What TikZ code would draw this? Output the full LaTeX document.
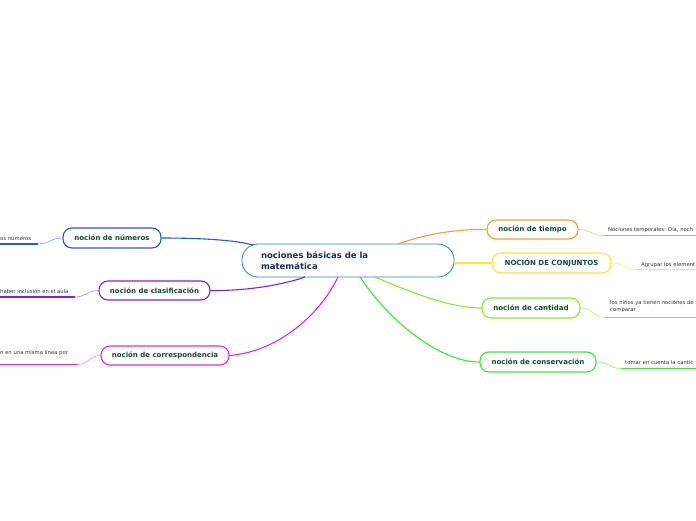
\documentclass[tikz,border=0pt]{standalone}
\usepackage{fontspec}
\setmainfont{DejaVu Sans}
\definecolor{cMain}{HTML}{2B86C7}
\definecolor{cNum}{HTML}{2255EE}
\definecolor{cCla}{HTML}{7722EE}
\definecolor{cCor}{HTML}{EE22EE}
\definecolor{cTie}{HTML}{F5A030}
\definecolor{cCon}{HTML}{EEEE30}
\definecolor{cCan}{HTML}{88EE22}
\definecolor{cCns}{HTML}{33EE33}
\definecolor{tGreen}{HTML}{124A3A}
\definecolor{tNavy}{HTML}{1B2A5A}
\definecolor{tLeaf}{HTML}{333333}
\begin{document}
\begin{tikzpicture}[x=1pt,y=-1pt,
  topic/.style={draw, rounded corners=9pt, line width=1.1pt, fill=white,
    font=\bfseries\fontsize{7}{8}\selectfont, text=tGreen, minimum height=20pt, inner sep=0pt},
  leaftext/.style={font=\fontsize{5.3}{7}\selectfont, text=tLeaf, inner sep=0pt, align=left},
  conn/.style={line width=1.1pt},
  thin/.style={line width=0.7pt},
  thick/.style={line width=1.7pt}]
\useasboundingbox (0,0) rectangle (696,520);
% central node
\node[draw=cMain, line width=0.8pt, rounded corners=16pt, fill=white, minimum width=212pt, minimum height=33pt,
  text width=174pt, inner xsep=19pt, align=left, text=tNavy, font=\bfseries\fontsize{8.5}{11}\selectfont]
  (c) at (348,260.5) {nociones básicas de la\\matemática};
% topic nodes
\node[topic, draw=cNum, minimum width=98pt] (num) at (112,238) {noción de números};
\node[topic, draw=cCla, minimum width=111pt, minimum height=19pt] (cla) at (154.5,290.5) {noción de clasificación};
\node[topic, draw=cCor, minimum width=128pt, minimum height=19pt] (cor) at (165,355.5) {noción de correspondencia};
\node[topic, draw=cTie, minimum width=91pt, minimum height=19pt] (tie) at (532.5,229.5) {noción de tiempo};
\node[topic, draw=cCon, minimum width=119pt] (con) at (551.5,263) {NOCIÓN DE CONJUNTOS};
\node[topic, draw=cCan, minimum width=98pt] (can) at (531,308) {noción de cantidad};
\node[topic, draw=cCns, minimum width=116pt] (cns) at (538,362) {noción de conservación};
% attach points on the central node border
\coordinate (cNum) at (253,245);
\coordinate (cCla) at (305,277);
\coordinate (cCor) at (338,277);
\coordinate (cTie) at (398,244);
\coordinate (cCon) at (454,263);
\coordinate (cCan) at (375,277);
\coordinate (cCns) at (360,277);
% main connectors
\draw[conn, cNum] (num.east) .. controls (200,238) and (235,240) .. (cNum);
\draw[conn, cCla] (cla.east) .. controls (250,291) and (285,284) .. (cCla);
\draw[conn, cCor] (cor.east) .. controls (275,352) and (318,318) .. (cCor);
\draw[conn, cTie] (tie.west) .. controls (450,229) and (420,236) .. (cTie);
\draw[conn, cCon] (cCon) -- (con.west);
\draw[conn, cCan] (cCan) .. controls (410,292) and (450,308) .. (can.west);
\draw[conn, cCns] (cCns) .. controls (390,322) and (440,362) .. (cns.west);
% leaf end coordinates
\coordinate (lNumA) at (38,244);  \coordinate (lNumB) at (0,244);
\coordinate (lClaA) at (75,297);  \coordinate (lClaB) at (0,297);
\coordinate (lCorA) at (77,364.5);  \coordinate (lCorB) at (0,364.5);
\coordinate (lTieA) at (604,235.5); \coordinate (lTieB) at (696,235.5);
\coordinate (lConA) at (637,269.5); \coordinate (lConB) at (696,269.5);
\coordinate (lCanA) at (606,317.5); \coordinate (lCanB) at (696,317.5);
\coordinate (lCnsA) at (622,368.5); \coordinate (lCnsB) at (696,368.5);
% leaf connectors
\draw[thin, cNum!50] (num.west) .. controls (50,238) and (50,244) .. (lNumA);
\draw[thick, cNum] (lNumA) -- (lNumB);
\draw[thin, cCla!50] (cla.west) .. controls (86,291) and (86,297) .. (lClaA);
\draw[thick, cCla] (lClaA) -- (lClaB);
\draw[thin, cCor!50] (cor.west) .. controls (89,355.5) and (89,364.5) .. (lCorA);
\draw[thick, cCor] (lCorA) -- (lCorB);
\draw[thin, cTie!60] (tie.east) .. controls (592,229.5) and (590,235.5) .. (lTieA);
\draw[thick, cTie] (lTieA) -- (lTieB);
\draw[thin, cCon!60] (con.east) .. controls (625,263) and (623,269.5) .. (lConA);
\draw[thick, cCon] (lConA) -- (lConB);
\draw[thin, cCan!60] (can.east) .. controls (594,308) and (592,317.5) .. (lCanA);
\draw[thick, cCan] (lCanA) -- (lCanB);
\draw[thin, cCns!60] (cns.east) .. controls (610,362) and (608,368.5) .. (lCnsA);
\draw[thick, cCns] (lCnsA) -- (lCnsB);
% leaf texts
\node[leaftext, anchor=base west] (tNum) at (0,240) {os números};
\node[leaftext, anchor=base west] (tCla) at (0,293) {haber inclusión en el aula};
\node[leaftext, anchor=base west] (tCor) at (0,354) {n en una misma línea por};
\node[leaftext, anchor=base west] (tTie) at (608,231) {Nociones temporales: Día, noch};
\node[leaftext, anchor=base west] (tCon) at (641,266) {Agrupar los element};
\node[leaftext, anchor=north west] (tCan) at (610,300.5) {los niños ya tienen nociones de\\comparar};
\node[leaftext, anchor=base west] (tCns) at (625,364) {tomar en cuenta la cantic};
\end{tikzpicture}
\end{document}
